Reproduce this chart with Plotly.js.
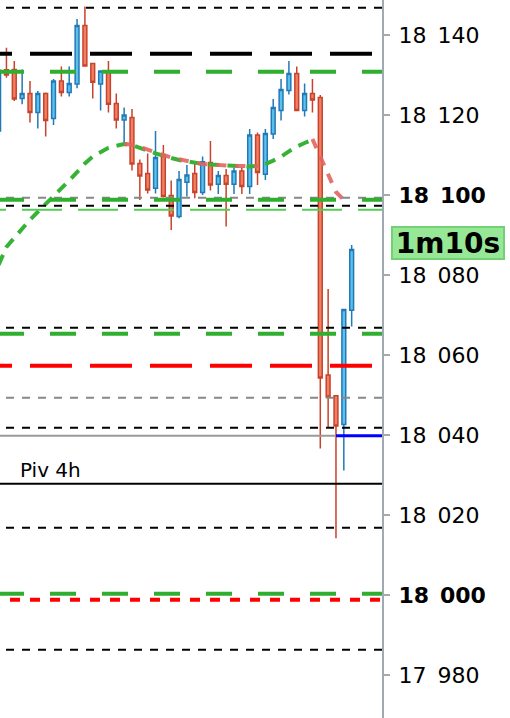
<!DOCTYPE html>
<html>
<head>
<meta charset="utf-8">
<script src="https://cdn.plot.ly/plotly-3.0.1.min.js"></script>
<style>
html,body{margin:0;padding:0;background:#fff;overflow:hidden}
#chart{width:510px;height:718px}
</style>
</head>
<body>
<div id="chart"></div>
<script>
// ---------- data ----------
const candleIndex = [0,1,2,3,4,5,6,7,8,9,10,11,12,13,14,15,16,17,18,19,20,21,22,23,24,25,26,27,28,29,30,31,32,33,34,35,36,37,38,39,40,41,42,43,44,45];
const opens  = [18116.0,18131.3,18131.4,18124.1,18125.4,18120.6,18125.4,18119.1,18128.5,18125.6,18127.75,18142.4,18132.9,18127.75,18131.0,18122.9,18118.75,18119.4,18107.9,18105.4,18101.7,18110.0,18099.9,18094.6,18103.2,18105.4,18100.6,18108.1,18102.7,18104.9,18102.7,18106.0,18102.1,18115.0,18105.2,18115.25,18121.1,18126.1,18130.4,18121.1,18125.4,18124.4,18055.0,18049.8,18042.6,18071.2];
const highs  = [18131.5,18136.8,18133.5,18131.4,18128.5,18126.0,18125.6,18129.0,18132.1,18132.1,18144.0,18147.1,18133.0,18131.2,18133.5,18125.4,18121.9,18121.5,18108.9,18110.4,18116.0,18112.5,18103.6,18106.0,18107.5,18108.3,18109.6,18113.5,18106.0,18106.5,18106.9,18106.9,18116.5,18115.6,18116.5,18124.0,18129.0,18133.5,18132.1,18127.9,18129.0,18125.0,18076.5,18049.8,18071.4,18087.5];
const lows   = [18115.3,18129.3,18123.5,18122.7,18118.1,18116.6,18114.6,18117.5,18124.6,18124.6,18126.7,18132.1,18124.1,18121.1,18120.6,18116.6,18112.9,18106.1,18098.75,18100.4,18100.4,18099.4,18091.25,18094.2,18099.6,18099.2,18100.0,18101.1,18100.25,18092.1,18100.25,18100.25,18100.25,18102.5,18103.75,18114.0,18118.6,18125.1,18121.1,18119.6,18120.6,18036.6,18042.0,18014.2,18031.1,18067.1];
const closes = [18131.2,18130.0,18124.0,18125.4,18120.6,18125.4,18118.6,18128.5,18125.6,18127.9,18142.4,18132.25,18128.2,18131.0,18122.7,18118.75,18120.0,18107.75,18104.75,18101.25,18109.4,18099.6,18094.75,18103.9,18105.0,18100.6,18108.3,18102.5,18104.9,18102.7,18106.0,18102.1,18115.0,18105.6,18115.4,18121.9,18126.4,18130.4,18121.1,18125.4,18123.75,18054.25,18049.5,18042.25,18071.4,18086.4];

const maGreen = [18082.5,18087.0,18089.3,18091.6,18093.8,18095.8,18097.7,18099.6,18101.6,18103.6,18105.7,18107.9,18109.6,18110.8,18111.8,18112.3,18112.75,18112.5,18111.9,18111.1,18110.4,18109.75,18109.25,18108.75,18108.4,18108.0,18107.75,18107.6,18107.5,18107.4,18107.25,18107.1,18107.1,18107.25,18107.75,18108.6,18109.6,18110.9,18112.1,18113.0,18113.8,null,null,null,null,null];
const maRed = [null,null,null,null,null,null,null,null,null,null,null,null,null,null,null,null,18112.75,18112.6,18112.0,18111.25,18110.6,18110.0,18109.4,18108.9,18108.5,18108.1,18107.75,18107.6,18107.4,18107.25,18107.25,18107.25,18107.25,18107.25,null,null,null,null,null,null,18114.0,18109.5,18104.75,18100.75,18098.75,null];

const tickValues = [17980,18000,18020,18040,18060,18080,18100,18120,18140];
const tickLabels = ['17\u2002980','<b>18\u2002000</b>','18\u2002020','18\u2002040','18\u2002060','18\u2002080','<b>18\u2002100</b>','18\u2002120','18\u2002140'];

const blackThinLevels  = [18146.8,18097.3,18066.8,18041.8,18016.8,17986.3];
const grayDashedLevels = [18099.3,18049.3];
const greenThickLevels = [18130.8,18098.8,18065.3,18000.3];
const lightGreenLevels = [18096.3];
const blackThickLevels = [18135.3];
const redThickLevels   = [18057.3];
const redShortLevels   = [17998.8];
const pivotLevel = 18027.8;
const pivotText = 'Piv 4h';
const priceLineLevel = 18039.8;
const priceLineStartIndex = 43;
const timerLevel = 18087.9;
const timerText = '1m10s';

// ---------- layout helpers ----------
const W = 510, H = 718;
const plotW = 382;
const barPx = 7.846, firstBarPx = -1.4;
const xRange = [-firstBarPx / barPx, (plotW - firstBarPx) / barPx];
const yRange = [17969.25, 18148.75];
const FONT = 'DejaVu Sans';

function hline(value, color, width, dash, startPx) {
  return {type:'line', xref:'paper', yref:'y', x0: startPx / plotW, x1: 1,
          y0: value, y1: value, layer:'above',
          line:{color: color, width: width, dash: dash}};
}

const shapes = [];
blackThinLevels.forEach(v => shapes.push(hline(v, '#000000', 2, '8px,8px', -10)));
grayDashedLevels.forEach(v => shapes.push(hline(v, '#888888', 2, '8px,8px', -10)));
lightGreenLevels.forEach(v => shapes.push(hline(v, '#55cc55', 2, '40px,16px', -34)));
greenThickLevels.forEach(v => shapes.push(hline(v, '#2fae2f', 4, '26px,26px', -2)));
blackThickLevels.forEach(v => shapes.push(hline(v, '#000000', 4, '42px,18px', -30)));
redThickLevels.forEach(v => shapes.push(hline(v, '#ff0000', 4, '42px,18px', -30)));
redShortLevels.forEach(v => shapes.push(hline(v, '#ff0000', 4, '10px,10px', -10)));
shapes.push(hline(pivotLevel, '#000000', 2, 'solid', 0));
shapes.push({type:'line', xref:'x', yref:'y', x0: xRange[0], x1: priceLineStartIndex,
             y0: priceLineLevel, y1: priceLineLevel, layer:'above', line:{color:'#9a9a9a', width:2}});
shapes.push({type:'line', xref:'x', yref:'y', x0: priceLineStartIndex, x1: xRange[1],
             y0: priceLineLevel, y1: priceLineLevel, layer:'above', line:{color:'#0000ff', width:3}});

const traces = [
  {type:'candlestick', x: candleIndex, open: opens, high: highs, low: lows, close: closes,
   increasing:{line:{color:'#2279b6', width:1.5}, fillcolor:'#5ac0ec'},
   decreasing:{line:{color:'#c8432b', width:1.5}, fillcolor:'#f07f63'},
   whiskerwidth:0, hoverinfo:'skip', showlegend:false},
  {type:'scatter', mode:'lines', x: candleIndex, y: maGreen, connectgaps:false,
   line:{color:'#36b336', width:4, dash:'11px,8px'}, hoverinfo:'skip', showlegend:false},
  {type:'scatter', mode:'lines', x: candleIndex, y: maRed, connectgaps:false,
   line:{color:'rgba(226,100,96,0.9)', width:4, dash:'10px,9px'}, hoverinfo:'skip', showlegend:false}
];

const layout = {
  width: W, height: H,
  margin:{l:0, r:W - plotW, t:0, b:0, pad:0},
  paper_bgcolor:'#ffffff', plot_bgcolor:'#ffffff',
  showlegend:false,
  xaxis:{range: xRange, visible:false, fixedrange:true, rangeslider:{visible:false}},
  yaxis:{range: yRange, side:'right', showgrid:false, zeroline:false,
         showline:true, linecolor:'#a0aab3', linewidth:2,
         ticks:'outside', ticklen:6, tickwidth:1.5, tickcolor:'#a0aab3',
         tickmode:'array', tickvals: tickValues, ticktext: tickLabels,
         ticklabelstandoff:4,
         tickfont:{family: FONT, size:22, color:'#000000'}, fixedrange:true},
  shapes: shapes,
  annotations:[
    {xref:'paper', yref:'y', x: 18 / plotW, xanchor:'left', y: pivotLevel, yanchor:'bottom', yshift:0,
     text: pivotText, showarrow:false, font:{family: FONT, size:20, color:'#000000'}},
    {xref:'paper', yref:'y', x: 391 / plotW, xanchor:'left', y: timerLevel, yanchor:'middle',
     text:'<b>' + timerText + '</b>', showarrow:false, width:110, height:30,
     bgcolor:'#96e896', bordercolor:'#74d074', borderwidth:2, borderpad:0,
     font:{family: FONT, size:28, color:'#000000'}}
  ]
};

Plotly.newPlot('chart', traces, layout, {staticPlot:true, displayModeBar:false});
</script>
</body>
</html>
